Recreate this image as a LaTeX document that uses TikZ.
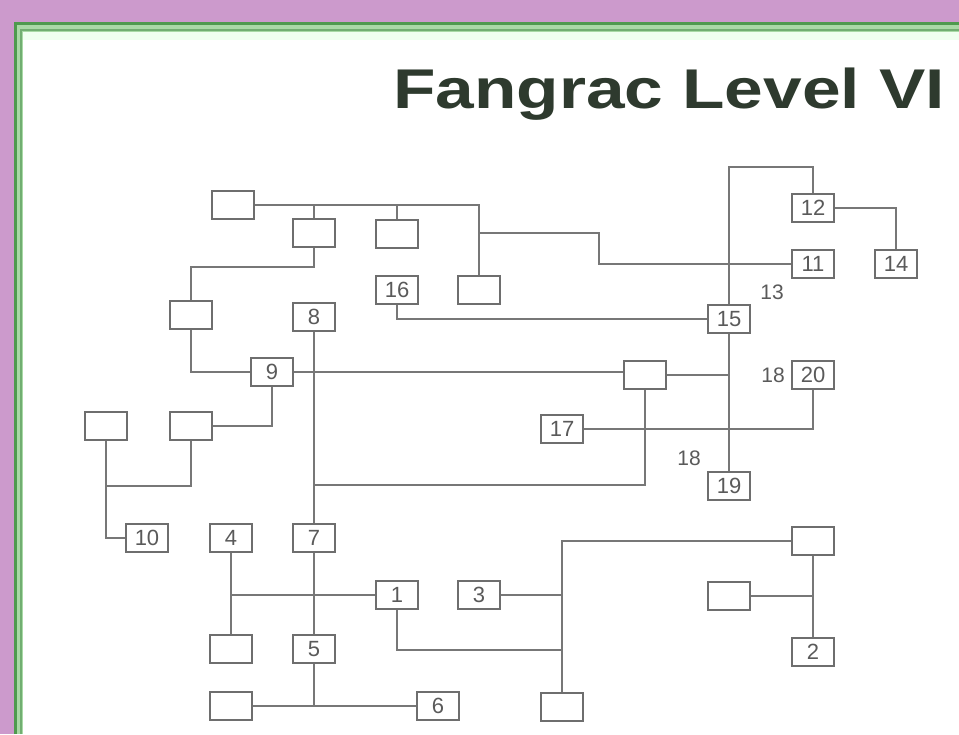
\documentclass[tikz,border=0pt]{standalone}
\usepackage{fontspec}
\newfontfamily\numfont{Liberation Sans}
\newfontfamily\ttlfont{Liberation Sans}
\definecolor{pinkbg}{HTML}{CC9ACC}
\definecolor{gdark}{HTML}{4E9A4E}
\definecolor{glight}{HTML}{A9D9A6}
\definecolor{boxc}{HTML}{6E6E6E}
\definecolor{linec}{HTML}{777777}
\definecolor{txtc}{HTML}{5A5A5A}
\definecolor{ttlc}{HTML}{2E3A2E}
\tikzset{
  bx/.style={draw=boxc, line width=2pt, fill=white, minimum width=42pt, minimum height=28pt, inner sep=0pt, font=\numfont\fontsize{22}{24}\selectfont, text=txtc},
  ln/.style={draw=linec, line width=2pt},
  lbl/.style={font=\numfont\fontsize{21}{23}\selectfont, text=txtc, inner sep=0pt}
}
\begin{document}
\begin{tikzpicture}[x=1pt,y=-1pt]
\useasboundingbox (0,0) rectangle (959,734);
% background and frame
\fill[pinkbg] (0,0) rectangle (959,734);
\fill[white] (15,22) rectangle (959,734);
\fill[glight] (17,24) rectangle (959,32);
\fill[glight] (17,24) rectangle (23,734);
\fill[white!94!green] (23,32) rectangle (959,40);
\draw[gdark, line width=2.5pt] (15.5,734) -- (15.5,23.5) -- (959,23.5);
\draw[gdark!80, line width=1.2pt] (21,734) -- (21,30) -- (959,30);
% title
\node[anchor=base west, inner sep=0pt, text=ttlc] (title) at (393,108)
  {\scalebox{1.24}[1]{\ttlfont\bfseries\fontsize{56}{60}\selectfont Fangrac Level VI}};
% empty boxes
\node[bx] (eA) at (233,205) {};
\node[bx] (eB) at (314,233) {};
\node[bx] (eC) at (397,234) {};
\node[bx] (eD) at (479,290) {};
\node[bx] (eE) at (191,315) {};
\node[bx] (eF) at (645,375) {};
\node[bx] (eL) at (191,426) {};
\node[bx] (eM) at (106,426) {};
\node[bx] (eG) at (813,541) {};
\node[bx] (eH) at (729,596) {};
\node[bx] (eI) at (231,649) {};
\node[bx] (eJ) at (231,706) {};
\node[bx] (eK) at (562,707) {};
% numbered boxes
\node[bx] (n1) at (397,595) {1};
\node[bx] (n2) at (813,652) {2};
\node[bx] (n3) at (479,595) {3};
\node[bx] (n4) at (231,538) {4};
\node[bx] (n5) at (314,649) {5};
\node[bx] (n6) at (438,706) {6};
\node[bx] (n7) at (314,538) {7};
\node[bx] (n8) at (314,317) {8};
\node[bx] (n9) at (272,372) {9};
\node[bx] (n10) at (147,538) {10};
\node[bx] (n11) at (813,264) {11};
\node[bx] (n12) at (813,208) {12};
\node[bx] (n14) at (896,264) {14};
\node[bx] (n15) at (729,319) {15};
\node[bx] (n16) at (397,290) {16};
\node[bx] (n17) at (562,429) {17};
\node[bx] (n19) at (729,486) {19};
\node[bx] (n20) at (813,375) {20};
% free labels
\node[lbl] (l13) at (772,292) {13};
\node[lbl] (l18a) at (773,375) {18};
\node[lbl] (l18b) at (689,458) {18};
% junction coordinates
\coordinate (k1) at (599,233);
\coordinate (k2) at (250,267);
\coordinate (k3) at (729,167);
\coordinate (k4) at (314,485);
\coordinate (k5) at (106,486);
\coordinate (k6) at (562,650);
% connectors
\draw[ln] (eA.east) -| (eD.north);
\draw[ln] (eB.north) -- (eB.north |- eA.east);
\draw[ln] (eC.north) -- (eC.north |- eA.east);
\draw[ln] (eD.north |- k1) -- (k1) |- (n11.west);
\draw[ln] (eB.south) -- (eB.south |- k2) -| (eE.north);
\draw[ln] (eE.south) |- (n9.west);
\draw[ln] (n8.south) -- (n7.north);
\draw[ln] (n9.east) -- (n9.east -| eF.west);
\draw[ln] (eF.east) -- (eF.east -| n15.south);
\draw[ln] (n15.north) -- (k3) -| (n12.north);
\draw[ln] (n15.south) -- (n19.north);
\draw[ln] (n16.south) |- (n15.west);
\draw[ln] (n12.east) -| (n14.north);
\draw[ln] (n20.south) |- (n17.east);
\draw[ln] (eF.south) |- (k4);
\draw[ln] (n9.south) |- (eL.east);
\draw[ln] (eL.south) |- (k5);
\draw[ln] (eM.south) |- (n10.west);
\draw[ln] (n4.south) -- (eI.north);
\draw[ln] (n4.south |- n1.west) -- (n1.west);
\draw[ln] (n7.south) -- (n5.north);
\draw[ln] (n5.south) -- (n5.south |- eJ.east);
\draw[ln] (eJ.east) -- (n6.west);
\draw[ln] (n3.east) -- (n3.east -| eK.north);
\draw[ln] (eK.north) |- (eG.west);
\draw[ln] (n1.south) |- (k6);
\draw[ln] (eG.south) -- (n2.north);
\draw[ln] (eH.east) -- (eH.east -| n2.north);
\end{tikzpicture}
\end{document}
